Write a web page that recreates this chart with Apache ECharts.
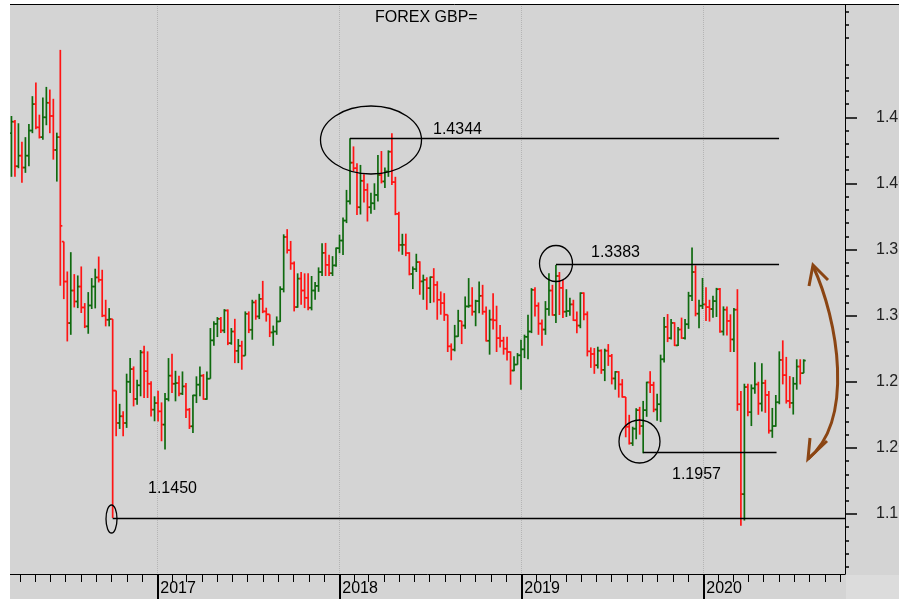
<!DOCTYPE html>
<html>
<head>
<meta charset="UTF-8">
<title>FOREX GBP=</title>
<script src="https://cdn.jsdelivr.net/npm/echarts@6/dist/echarts.min.js"></script>
<style>
    html, body { margin: 0; padding: 0; background: #fff; }
    #chart { width: 899px; height: 599px; }
</style>
</head>
<body>
<div id="chart"></div>
<script>
// weekly bars, first week starts Monday 2016-03-14
var firstWeek = Date.UTC(2016, 2, 14);

var opens = [1.4380,1.4467,1.4130,1.4210,1.4120,1.4210,1.4400,1.4600,1.4424,1.4350,
    1.4500,1.4610,1.4510,1.4253,1.4350,1.3560,1.3258,1.2944,1.3190,1.3107,
    1.3220,1.3062,1.2919,1.3077,1.3220,1.3289,1.3271,1.3000,1.2969,1.2974,
    1.2433,1.2188,1.2239,1.2188,1.2500,1.2596,1.2370,1.2473,1.2722,1.2580,
    1.2485,1.2289,1.2339,1.2276,1.2176,1.2369,1.2546,1.2485,1.2490,1.2410,
    1.2465,1.2289,1.2163,1.2397,1.2478,1.2546,1.2369,1.2523,1.2813,1.2938,
    1.2976,1.2888,1.3039,1.2792,1.2880,1.2734,1.2772,1.2697,1.3014,1.2893,
    1.3100,1.2994,1.3127,1.3032,1.3010,1.2873,1.2880,1.2956,1.3200,1.3595,
    1.3495,1.3395,1.3065,1.3280,1.3190,1.3135,1.3060,1.3190,1.3225,1.3330,
    1.3475,1.3384,1.3321,1.3380,1.3510,1.3568,1.3719,1.3865,1.4157,1.4115,
    1.3820,1.4020,1.3951,1.3820,1.3850,1.3913,1.4064,1.4015,1.4090,1.4240,
    1.4010,1.3770,1.3535,1.3536,1.3473,1.3315,1.3352,1.3405,1.3259,1.3271,
    1.3208,1.3291,1.3233,1.3120,1.3095,1.3007,1.2768,1.2743,1.2843,1.2960,
    1.2925,1.3070,1.3075,1.3030,1.3110,1.3150,1.3030,1.2810,1.2970,1.2965,
    1.2830,1.2810,1.2750,1.2725,1.2585,1.2630,1.2700,1.2745,1.2840,1.2880,
    1.3195,1.3075,1.2940,1.2895,1.3050,1.3190,1.3005,1.3300,1.3210,1.3030,
    1.3035,1.3085,1.2965,1.2925,1.3170,1.3010,1.2730,1.2710,1.2625,1.2735,
    1.2590,1.2735,1.2695,1.2525,1.2575,1.2480,1.2385,1.2160,1.2035,1.2145,
    1.2285,1.2165,1.2285,1.2495,1.2475,1.2290,1.2330,1.2670,1.2915,1.2830,
    1.2945,1.2775,1.2895,1.2830,1.2935,1.3150,1.3330,1.3015,1.3075,1.3085,
    1.3065,1.3050,1.3110,1.3200,1.2880,1.3045,1.2960,1.2820,1.3045,1.2330,
    1.1650,1.2460,1.2270,1.2450,1.2480,1.2335,1.2490,1.2400,1.2130,1.2165,
    1.2345,1.2665,1.2550,1.2355,1.2340,1.2485,1.2615,1.2565];

var highs = [1.4510,1.4480,1.4455,1.4316,1.4350,1.4450,1.4660,1.4764,1.4520,1.4650,
    1.4730,1.4710,1.4640,1.4384,1.5010,1.3560,1.3334,1.3480,1.3314,1.3304,
    1.3372,1.3095,1.3178,1.3284,1.3355,1.3447,1.3347,1.3120,1.3057,1.2974,
    1.2433,1.2333,1.2277,1.2561,1.2679,1.2616,1.2516,1.2740,1.2772,1.2730,
    1.2503,1.2390,1.2432,1.2344,1.2415,1.2679,1.2712,1.2583,1.2545,1.2578,
    1.2490,1.2301,1.2402,1.2541,1.2616,1.2558,1.2578,1.2906,1.2957,1.2989,
    1.2989,1.3049,1.3047,1.2906,1.2976,1.2823,1.2810,1.3032,1.3032,1.3120,
    1.3120,1.3165,1.3263,1.3060,1.3010,1.2925,1.2994,1.3222,1.3615,1.3654,
    1.3565,1.3410,1.3320,1.3330,1.3320,1.3320,1.3300,1.3255,1.3365,1.3548,
    1.3550,1.3460,1.3450,1.3515,1.3612,1.3743,1.3951,1.4341,1.4280,1.4152,
    1.4140,1.4070,1.4000,1.3930,1.4001,1.4215,1.4245,1.4120,1.4250,1.4379,
    1.4050,1.3785,1.3619,1.3620,1.3480,1.3372,1.3468,1.3411,1.3310,1.3290,
    1.3296,1.3359,1.3260,1.3183,1.3170,1.3007,1.2790,1.2930,1.3044,1.2960,
    1.3145,1.3284,1.3215,1.3120,1.3258,1.3233,1.3070,1.3045,1.3170,1.3075,
    1.2930,1.2840,1.2840,1.2730,1.2692,1.2717,1.2818,1.2856,1.3007,1.3208,
    1.3215,1.3100,1.2970,1.3110,1.3320,1.3233,1.3383,1.3330,1.3271,1.3200,
    1.3135,1.3120,1.3032,1.3176,1.3176,1.3032,1.2760,1.2755,1.2765,1.2745,
    1.2750,1.2785,1.2710,1.2580,1.2580,1.2520,1.2385,1.2250,1.2160,1.2300,
    1.2310,1.2355,1.2500,1.2580,1.2500,1.2410,1.2705,1.2990,1.3012,1.2975,
    1.2950,1.2915,1.2985,1.2975,1.3180,1.3515,1.3380,1.3120,1.3285,1.3215,
    1.3120,1.3150,1.3210,1.3210,1.3070,1.3070,1.3010,1.3057,1.3200,1.2430,
    1.2485,1.2485,1.2480,1.2648,1.2500,1.2640,1.2515,1.2430,1.2302,1.2400,
    1.2730,1.2813,1.2688,1.2543,1.2535,1.2670,1.2670,1.2670];

var lows = [1.4050,1.4050,1.4115,1.4005,1.4080,1.4130,1.4380,1.4410,1.4340,1.4330,
    1.4440,1.4380,1.4180,1.4014,1.3226,1.3125,1.2805,1.2855,1.3062,1.3057,
    1.3020,1.2906,1.2863,1.3050,1.3055,1.3251,1.2989,1.2919,1.2919,1.1470,
    1.2088,1.2143,1.2088,1.2151,1.2415,1.2314,1.2327,1.2390,1.2377,1.2377,
    1.2238,1.2201,1.2200,1.2050,1.1987,1.2352,1.2415,1.2352,1.2390,1.2400,
    1.2226,1.2143,1.2113,1.2339,1.2390,1.2364,1.2364,1.2523,1.2772,1.2838,
    1.2868,1.2868,1.2777,1.2780,1.2641,1.2641,1.2591,1.2697,1.2868,1.2818,
    1.2969,1.2974,1.3019,1.2955,1.2838,1.2772,1.2855,1.2953,1.3176,1.3470,
    1.3347,1.3032,1.3060,1.3082,1.3057,1.3040,1.3040,1.3120,1.3180,1.3300,
    1.3300,1.3300,1.3300,1.3370,1.3472,1.3458,1.3700,1.3840,1.4090,1.3762,
    1.3765,1.3855,1.3712,1.3770,1.3800,1.3863,1.4000,1.3965,1.4050,1.3989,
    1.3760,1.3485,1.3460,1.3450,1.3305,1.3201,1.3330,1.3158,1.3120,1.3044,
    1.3095,1.3100,1.2969,1.3007,1.2960,1.2725,1.2662,1.2730,1.2840,1.2785,
    1.2900,1.3060,1.3000,1.2920,1.3018,1.3007,1.2805,1.2705,1.2895,1.2725,
    1.2760,1.2705,1.2660,1.2478,1.2579,1.2629,1.2440,1.2679,1.2670,1.2868,
    1.2994,1.2855,1.2773,1.2855,1.3000,1.3000,1.2945,1.3005,1.2982,1.2990,
    1.3000,1.2960,1.2866,1.2905,1.2965,1.2692,1.2605,1.2560,1.2600,1.2560,
    1.2505,1.2620,1.2480,1.2440,1.2380,1.2380,1.2080,1.2025,1.2015,1.2065,
    1.2100,1.1959,1.2235,1.2415,1.2270,1.2205,1.2195,1.2645,1.2800,1.2820,
    1.2770,1.2770,1.2825,1.2820,1.2900,1.3110,1.2995,1.2905,1.3050,1.2960,
    1.2955,1.2985,1.2990,1.2870,1.2850,1.2850,1.2725,1.2725,1.2280,1.1410,
    1.1450,1.2240,1.2165,1.2410,1.2250,1.2275,1.2265,1.2108,1.2076,1.2160,
    1.2330,1.2480,1.2335,1.2300,1.2252,1.2440,1.2480,1.2565];

var closes = [1.4467,1.4130,1.4210,1.4120,1.4210,1.4400,1.4600,1.4424,1.4350,1.4500,
    1.4610,1.4510,1.4253,1.4350,1.3679,1.3258,1.2944,1.3190,1.3107,1.3220,
    1.3062,1.2919,1.3077,1.3220,1.3289,1.3271,1.3000,1.2969,1.2974,1.2433,
    1.2188,1.2239,1.2188,1.2500,1.2596,1.2370,1.2473,1.2722,1.2580,1.2485,
    1.2289,1.2339,1.2276,1.2176,1.2369,1.2546,1.2485,1.2490,1.2410,1.2465,
    1.2289,1.2163,1.2397,1.2478,1.2546,1.2369,1.2523,1.2813,1.2938,1.2976,
    1.2888,1.3039,1.2792,1.2880,1.2734,1.2772,1.2697,1.3014,1.2893,1.3100,
    1.2994,1.3127,1.3032,1.3010,1.2873,1.2880,1.2956,1.3200,1.3595,1.3495,
    1.3395,1.3065,1.3280,1.3190,1.3135,1.3060,1.3190,1.3225,1.3330,1.3475,
    1.3384,1.3321,1.3380,1.3510,1.3568,1.3719,1.3865,1.4157,1.4115,1.3820,
    1.4020,1.3951,1.3820,1.3850,1.3913,1.4064,1.4015,1.4090,1.4240,1.4010,
    1.3770,1.3535,1.3536,1.3473,1.3315,1.3352,1.3405,1.3259,1.3271,1.3208,
    1.3291,1.3233,1.3120,1.3095,1.3007,1.2768,1.2743,1.2843,1.2960,1.2925,
    1.3070,1.3075,1.3030,1.3110,1.3150,1.3030,1.2810,1.2970,1.2965,1.2830,
    1.2810,1.2750,1.2725,1.2585,1.2630,1.2700,1.2745,1.2840,1.2880,1.3195,
    1.3075,1.2940,1.2895,1.3050,1.3190,1.3005,1.3300,1.3210,1.3030,1.3035,
    1.3085,1.2965,1.2925,1.3170,1.3010,1.2730,1.2710,1.2625,1.2735,1.2590,
    1.2735,1.2695,1.2525,1.2575,1.2480,1.2385,1.2160,1.2035,1.2145,1.2285,
    1.2165,1.2285,1.2495,1.2475,1.2290,1.2330,1.2670,1.2915,1.2830,1.2945,
    1.2775,1.2895,1.2830,1.2935,1.3150,1.3330,1.3015,1.3075,1.3085,1.3065,
    1.3050,1.3110,1.3200,1.2880,1.3045,1.2960,1.2820,1.3045,1.2330,1.1650,
    1.2460,1.2270,1.2450,1.2480,1.2335,1.2490,1.2400,1.2130,1.2165,1.2345,
    1.2665,1.2550,1.2355,1.2340,1.2485,1.2615,1.2565,1.2660];

var yearTicks = ['2017-01-01', '2018-01-01', '2019-01-01', '2020-01-01'];
var priceTicks = [1.15, 1.20, 1.25, 1.30, 1.35, 1.40, 1.45];

// marked levels: label text, value the line sits on, first and last date
var levelNames = ['1.4344', '1.3383', '1.1957', '1.1450'];
var levelValues = [1.4341, 1.3391, 1.1969, 1.1467];
var levelFrom = ['2018-01-22', '2019-03-11', '2019-09-02', '2016-10-03'];
var levelTo = ['2020-06-01', '2020-06-01', '2020-05-27', '2020-10-11'];

var DAY = 86400000;
var xMin = Date.UTC(2016, 2, 11, 14);
var xMax = Date.UTC(2020, 9, 11, 7);
var GREEN = '#0f6a0f';
var RED = '#ff1414';
var FONT = '"Liberation Sans", Arial, sans-serif';

function utc(s) {
    var p = s.split('-');
    return Date.UTC(+p[0], +p[1] - 1, +p[2]);
}

var bars = closes.map(function (c, i) {
    return [firstWeek + i * 7 * DAY + DAY / 2, opens[i], highs[i], lows[i], c];
});

var monthTicks = [];
for (var y = 2016; y <= 2020; y++) {
    for (var m = 0; m < 12; m++) {
        var t = Date.UTC(y, m, 1);
        if (t > xMin && t < xMax && m !== 0) monthTicks.push(t);
    }
}
var minorPrice = [];
for (var v = 111; v <= 153; v++) {
    if (v % 5 !== 0) minorPrice.push(v / 100);
}

var levelLines = levelValues.map(function (v, i) {
    return [
        { coord: [utc(levelFrom[i]) + DAY / 2, v] },
        { coord: [i === 3 ? xMax : utc(levelTo[i]), v] }
    ];
});

var chart = echarts.init(document.getElementById('chart'));

var option = {
    animation: false,
    backgroundColor: '#d4d4d4',
    title: {
        text: 'FOREX GBP=',
        left: 375,
        top: 10,
        padding: 0,
        textStyle: { fontSize: 16, fontWeight: 'normal', color: '#000', fontFamily: FONT }
    },
    grid: { left: 10, right: 54, top: 4, bottom: 25, outerBoundsMode: 'none', containLabel: false },
    xAxis: [{
        type: 'value',
        position: 'bottom',
        min: xMin,
        max: xMax,
        axisLine: { show: true, lineStyle: { color: '#000', width: 1 } },
        axisTick: {
            show: true, length: 26,
            customValues: yearTicks.map(utc),
            lineStyle: { color: '#000', width: 2 }
        },
        axisLabel: {
            show: true,
            customValues: yearTicks.map(utc),
            formatter: function (val) { return String(new Date(val).getUTCFullYear()); },
            align: 'left',
            padding: [0, 0, 0, 3],
            margin: 7,
            fontSize: 16,
            color: '#000',
            fontFamily: FONT
        },
        splitLine: { show: true, lineStyle: { color: '#b4b4b4', type: 'dotted', width: 1 } }
    }, {
        type: 'value',
        position: 'bottom',
        min: xMin,
        max: xMax,
        axisLine: { show: false },
        axisTick: { show: true, length: 8, customValues: monthTicks, lineStyle: { color: '#000', width: 1 } },
        axisLabel: { show: false },
        splitLine: { show: false }
    }],
    yAxis: [{
        type: 'value',
        position: 'right',
        min: 1.1046,
        max: 1.5357,
        axisLine: { show: true, lineStyle: { color: '#000', width: 1 } },
        axisTick: { show: true, length: 12, customValues: priceTicks, lineStyle: { color: '#000', width: 1.5 } },
        axisLabel: {
            show: true,
            customValues: priceTicks,
            formatter: function (val) { return val.toFixed(2); },
            margin: 31,
            padding: [7, 0, 0, 0],
            fontSize: 16,
            color: '#222',
            fontFamily: FONT
        },
        splitLine: { show: false }
    }, {
        type: 'value',
        position: 'right',
        min: 1.1046,
        max: 1.5357,
        axisLine: { show: false },
        axisTick: { show: true, length: 4, customValues: minorPrice, lineStyle: { color: '#000', width: 1.5 } },
        axisLabel: { show: false },
        splitLine: { show: false }
    }],
    series: [{
        type: 'custom',
        name: 'GBP=',
        xAxisIndex: 0,
        yAxisIndex: 0,
        data: bars,
        encode: { x: 0, y: [1, 2, 3, 4] },
        renderItem: function (params, api) {
            var t = api.value(0);
            var o = api.coord([t, api.value(1)]);
            var h = api.coord([t, api.value(2)]);
            var l = api.coord([t, api.value(3)]);
            var c = api.coord([t, api.value(4)]);
            var col = api.value(4) >= api.value(1) ? GREEN : RED;
            var st = { stroke: col, lineWidth: 1.7 };
            return {
                type: 'group',
                children: [
                    { type: 'line', shape: { x1: h[0], y1: h[1], x2: l[0], y2: l[1] }, style: st },
                    { type: 'line', shape: { x1: o[0] - 2, y1: o[1], x2: o[0], y2: o[1] }, style: st },
                    { type: 'line', shape: { x1: c[0], y1: c[1], x2: c[0] + 2, y2: c[1] }, style: st }
                ]
            };
        },
        markLine: {
            silent: true,
            symbol: 'none',
            label: { show: false },
            lineStyle: { color: '#000', width: 1.3, type: 'solid' },
            data: levelLines
        }
    }],
    graphic: [
        { type: 'rect', z: 100, shape: { x: 0, y: 0, width: 10, height: 599 }, style: { fill: '#fff' } },
        { type: 'rect', z: 100, shape: { x: 0, y: 0, width: 899, height: 4 }, style: { fill: '#fff' } },
        { type: 'line', z: 100, shape: { x1: 10, y1: 4.5, x2: 899, y2: 4.5 }, style: { stroke: '#000', lineWidth: 1 } },
        { type: 'rect', z: 100, shape: { x: 846, y: 575, width: 53, height: 24 }, style: { fill: '#dcdcdc' } },
        { type: 'ellipse', z: 100, shape: { cx: 371, cy: 140, rx: 50.5, ry: 34 }, style: { fill: 'none', stroke: '#000', lineWidth: 1.3 } },
        { type: 'ellipse', z: 100, shape: { cx: 556, cy: 263.5, rx: 16.5, ry: 18 }, style: { fill: 'none', stroke: '#000', lineWidth: 1.3 } },
        { type: 'ellipse', z: 100, shape: { cx: 639.5, cy: 441.5, rx: 20.5, ry: 21.5 }, style: { fill: 'none', stroke: '#000', lineWidth: 1.3 } },
        { type: 'ellipse', z: 100, shape: { cx: 111.5, cy: 519, rx: 5.5, ry: 14 }, style: { fill: 'none', stroke: '#000', lineWidth: 1.3 } },
        { type: 'text', z: 100, style: { text: levelNames[0], x: 433, y: 129.5, verticalAlign: 'middle', fill: '#000', font: '16px ' + FONT } },
        { type: 'text', z: 100, style: { text: levelNames[1], x: 591, y: 252.5, verticalAlign: 'middle', fill: '#000', font: '16px ' + FONT } },
        { type: 'text', z: 100, style: { text: levelNames[2], x: 672, y: 475, verticalAlign: 'middle', fill: '#000', font: '16px ' + FONT } },
        { type: 'text', z: 100, style: { text: levelNames[3], x: 148, y: 489, verticalAlign: 'middle', fill: '#000', font: '16px ' + FONT } },
        { type: 'bezierCurve', z: 100,
          shape: { x1: 813, y1: 266, cpx1: 838, cpy1: 320, cpx2: 855, cpy2: 420, x2: 808, y2: 459 },
          style: { fill: 'none', stroke: '#8b4513', lineWidth: 3 } },
        { type: 'polyline', z: 100, shape: { points: [[809, 286], [813, 265], [828, 280]] },
          style: { fill: 'none', stroke: '#8b4513', lineWidth: 3 } },
        { type: 'polyline', z: 100, shape: { points: [[810, 438], [808, 459], [827, 441]] },
          style: { fill: 'none', stroke: '#8b4513', lineWidth: 3 } }
    ]
};

chart.setOption(option);
</script>
</body>
</html>
